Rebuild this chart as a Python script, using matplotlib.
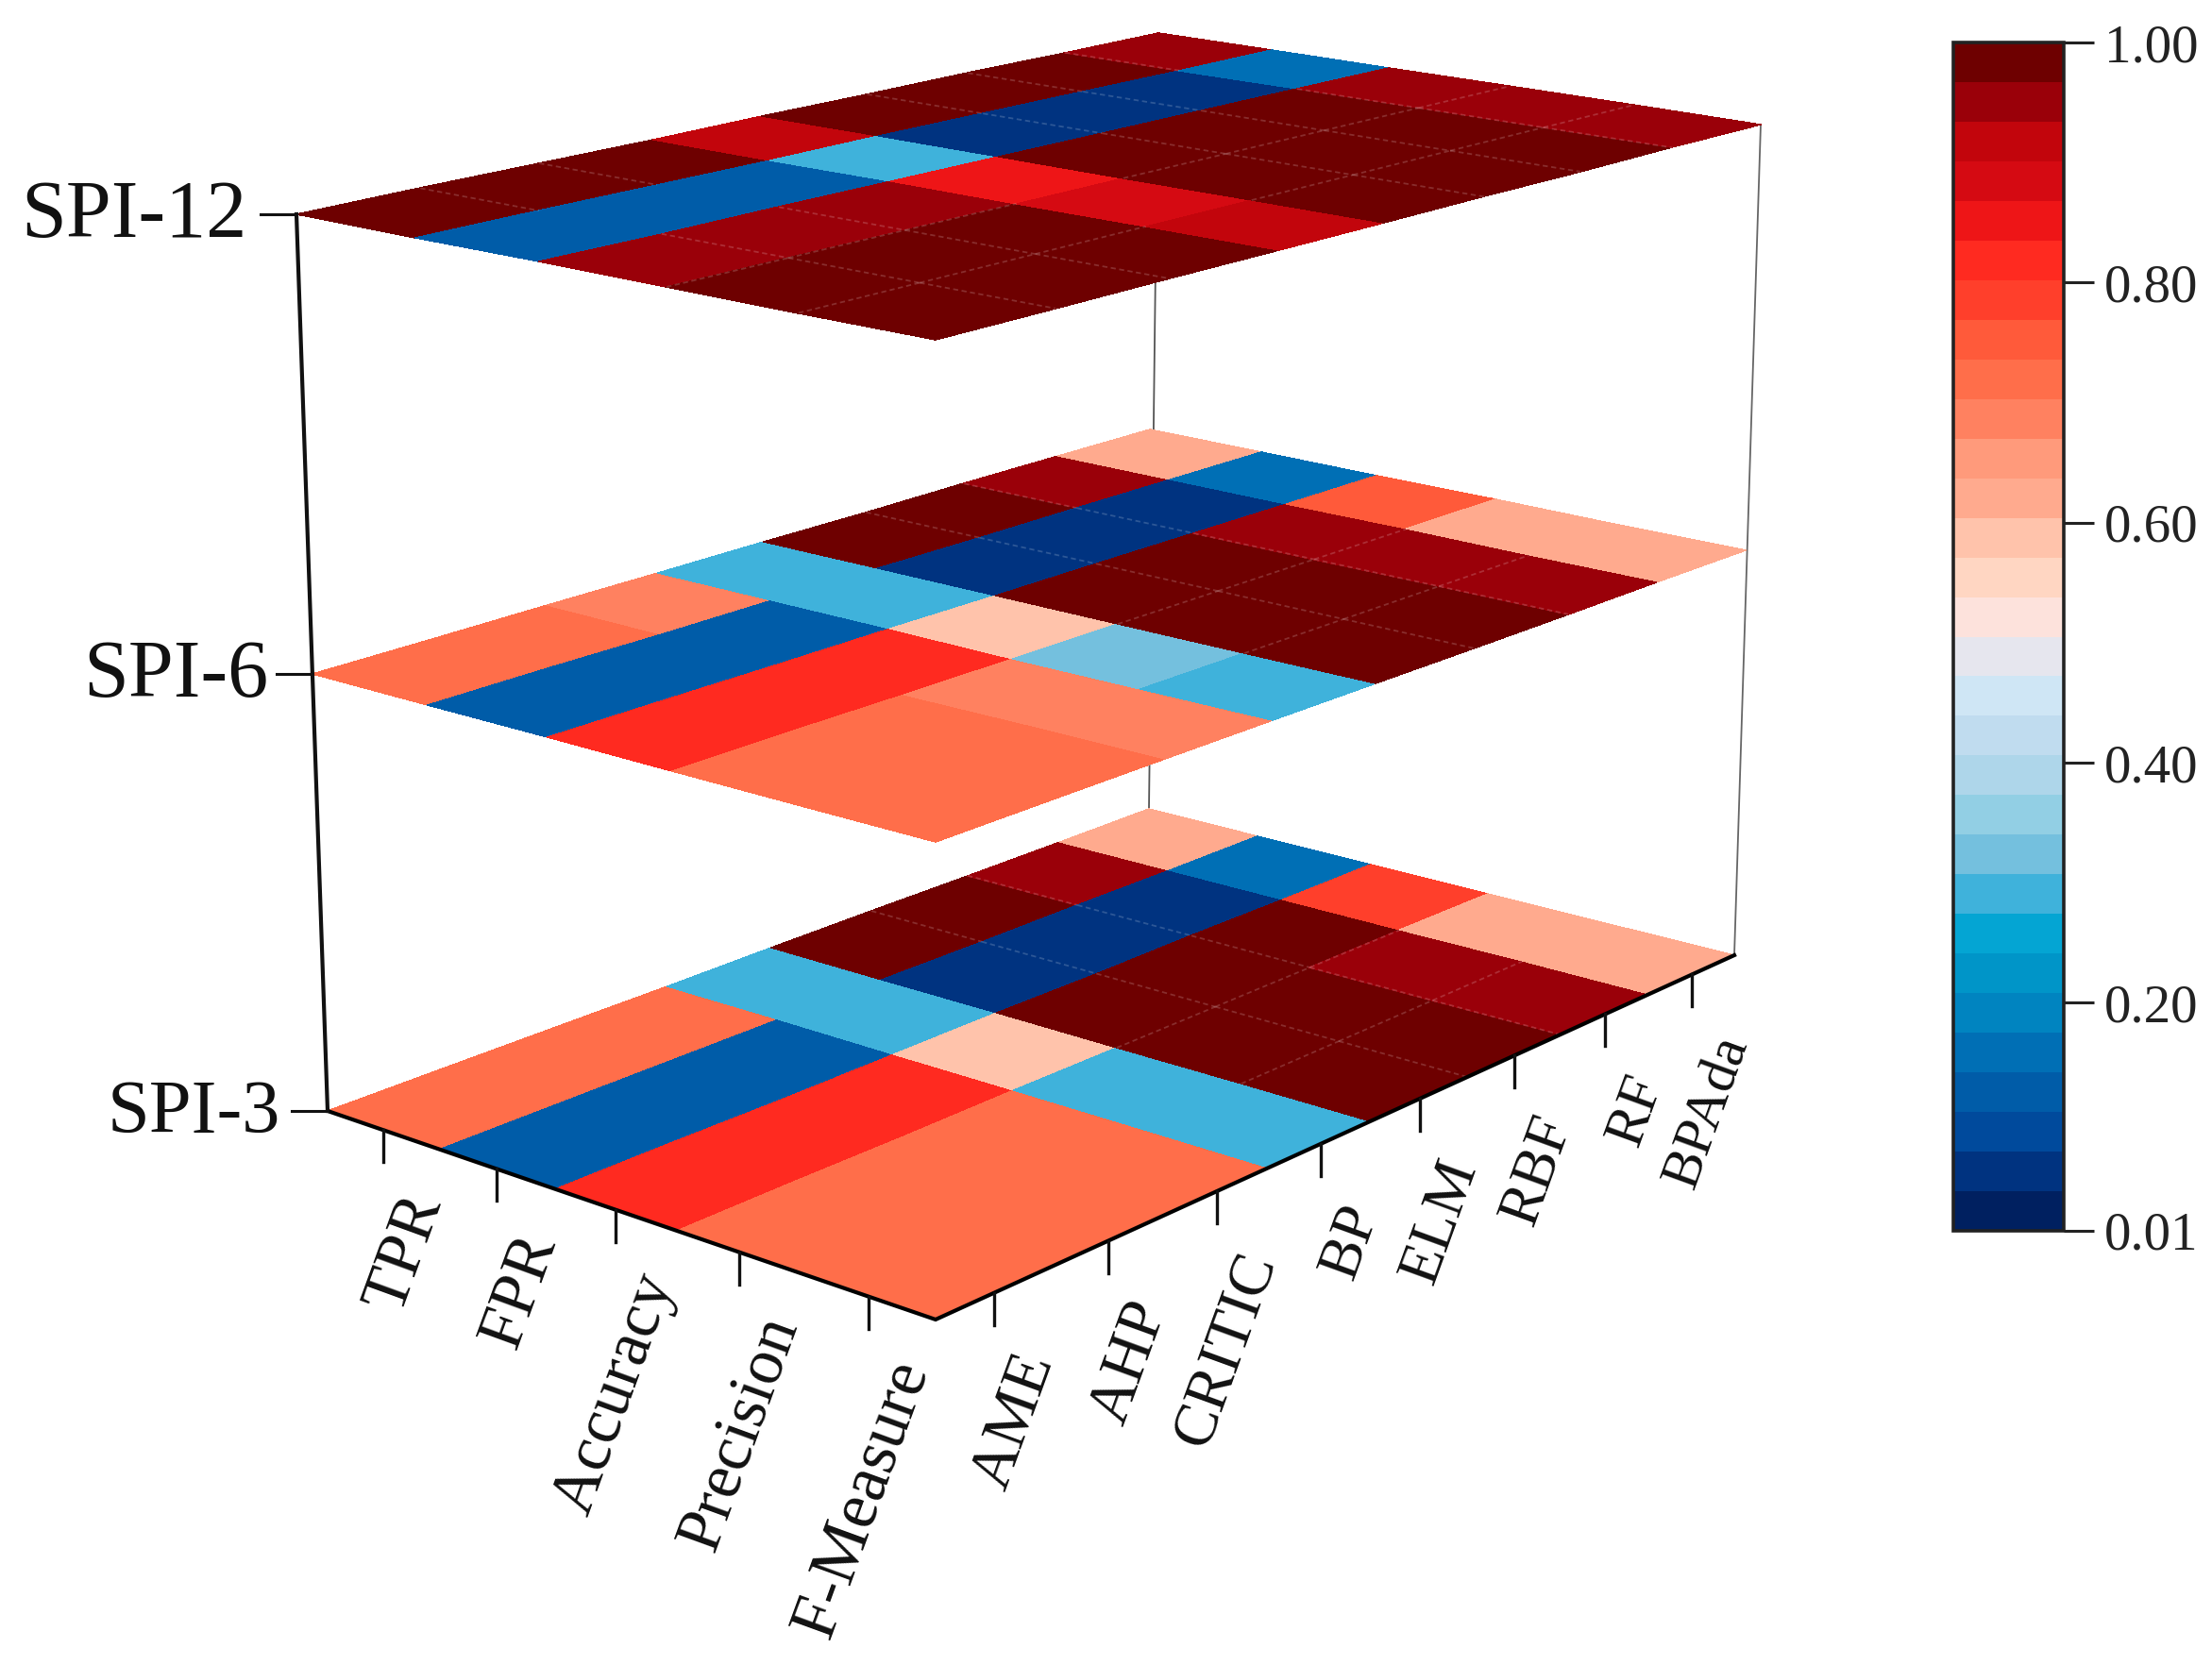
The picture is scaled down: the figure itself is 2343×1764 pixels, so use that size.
import numpy as np
import matplotlib
matplotlib.use("Agg")
import matplotlib.pyplot as plt
from matplotlib.colors import ListedColormap, BoundaryNorm

plt.rcParams['font.family'] = ['Liberation Serif', 'DejaVu Serif']

# data
metrics = ['TPR', 'FPR', 'Accuracy', 'Precision', 'F-Measure']
models = ['AME', 'AHP', 'CRITIC', 'BP', 'ELM', 'RBF', 'RF', 'BPAda']
levels = ['SPI-3', 'SPI-6', 'SPI-12']

spi3 = [[0.72, 0.72, 0.72, 0.29, 0.99, 0.99, 0.95, 0.62],
        [0.13, 0.13, 0.13, 0.29, 0.06, 0.06, 0.06, 0.16],
        [0.82, 0.82, 0.82, 0.59, 0.99, 0.99, 0.99, 0.78],
        [0.72, 0.72, 0.72, 0.29, 0.99, 0.99, 0.95, 0.62],
        [0.72, 0.72, 0.72, 0.29, 0.99, 0.99, 0.95, 0.62]]
spi6 = [[0.72, 0.72, 0.69, 0.29, 0.99, 0.99, 0.95, 0.62],
        [0.13, 0.13, 0.13, 0.29, 0.06, 0.06, 0.06, 0.16],
        [0.82, 0.82, 0.82, 0.59, 0.99, 0.99, 0.95, 0.75],
        [0.72, 0.72, 0.69, 0.32, 0.99, 0.99, 0.95, 0.62],
        [0.72, 0.72, 0.69, 0.29, 0.99, 0.99, 0.95, 0.62]]
spi12 = [[0.99, 0.99, 0.99, 0.92, 0.99, 0.99, 0.99, 0.95],
         [0.13, 0.13, 0.13, 0.29, 0.06, 0.06, 0.06, 0.16],
         [0.95, 0.95, 0.95, 0.86, 0.99, 0.99, 0.99, 0.95],
         [0.99, 0.99, 0.99, 0.89, 0.99, 0.99, 0.99, 0.95],
         [0.99, 0.99, 0.99, 0.92, 0.99, 0.99, 0.99, 0.95]]

band_colors = ['#002060', '#003380', '#004a9c', '#005ca8', '#006fb5', '#0084c0',
               '#0095c8', '#04a5d3', '#3fb2db', '#74c0de', '#92cfe4', '#aed6ea',
               '#c0dcef', '#cfe6f5', '#e6e6ee', '#fde2dc', '#ffd6c2', '#ffc3ab',
               '#ffaa8e', '#ff9a7b', '#ff8160', '#ff6e4a', '#ff5a3a', '#ff3f2b',
               '#ff2a20', '#ee1517', '#d50a12', '#c2050c', '#9a0009', '#6e0000']
cbar_ticks = [0.01, 0.20, 0.40, 0.60, 0.80, 1.00]

W, H = 2343, 1764

# sheet corners in pixels: left, back, right, front
corners = {'SPI-3': [(347, 1177), (1217, 857), (1837, 1012), (991, 1398)],
           'SPI-6': [(331, 714), (1218, 455), (1849, 583), (991, 892)],
           'SPI-12': [(314, 227), (1227, 35), (1865, 132), (991, 360)]}
label_size = {'SPI-3': 58, 'SPI-6': 62, 'SPI-12': 62}
label_gap = {'SPI-3': 50, 'SPI-6': 47, 'SPI-12': 52}
metric_size = [50, 50, 50, 50, 51]
model_size = [48, 48, 47, 46, 46, 45, 44, 43]


def homography(pts):
    # maps (col, row) on the 8x5 grid onto the sheet in picture
    src = [(0, 0), (8, 0), (8, 5), (0, 5)]
    A, b = [], []
    for (u, v), (x, y) in zip(src, pts):
        A.append([u, v, 1, 0, 0, 0, -u * x, -v * x])
        A.append([0, 0, 0, u, v, 1, -u * y, -v * y])
        b += [x, y]
    h = np.linalg.solve(np.array(A, float), np.array(b, float))
    return np.append(h, 1).reshape(3, 3)


def project(m, u, v):
    u, v = np.asarray(u, float), np.asarray(v, float)
    d = m[2, 0] * u + m[2, 1] * v + m[2, 2]
    return (m[0, 0] * u + m[0, 1] * v + m[0, 2]) / d, (m[1, 0] * u + m[1, 1] * v + m[1, 2]) / d


fig = plt.figure(figsize=(W / 100, H / 100), dpi=100)
ax = fig.add_axes([0, 0, 1, 1])
ax.set_xlim(0, W)
ax.set_ylim(H, 0)
ax.axis('off')

bounds = np.linspace(0.01, 1.0, len(band_colors) + 1)
cmap = ListedColormap(band_colors)
norm = BoundaryNorm(bounds, cmap.N)

# box lines behind the sheets
c3, c12 = corners['SPI-3'], corners['SPI-12']
ax.plot([c12[1][0], c3[1][0]], [c12[1][1], c3[1][1]], color='#555555', lw=1.3, zorder=1)
ax.plot([c12[2][0], c3[2][0]], [c12[2][1], c3[2][1]], color='#666666', lw=1.3, zorder=1)
ax.plot([c12[0][0], c3[0][0]], [c12[0][1], c3[0][1]], color='#111111', lw=3, zorder=5)

for name, vals in zip(levels, [spi3, spi6, spi12]):
    vals = np.array(vals)
    m = homography(corners[name])
    uu, vv = np.meshgrid(np.arange(9), np.arange(6))
    X, Y = project(m, uu, vv)
    ax.pcolormesh(X, Y, vals, cmap=cmap, norm=norm, shading='flat', zorder=2,
                  edgecolors='face', linewidth=0.3)

    # faint seams between the very dark / very blue cells
    for r in range(5):
        for k in range(8):
            if k < 7 and abs(vals[r, k] - vals[r, k + 1]) < 0.06 and (vals[r, k] > 0.93 or vals[r, k] < 0.1):
                x, y = project(m, [k + 1, k + 1], [r, r + 1])
                ax.plot(x, y, color='white', alpha=0.18, lw=1.3, ls=(0, (3, 2)), zorder=3)
            if r < 4 and abs(vals[r, k] - vals[r + 1, k]) < 0.06 and (vals[r, k] > 0.93 or vals[r, k] < 0.1):
                x, y = project(m, [k, k + 1], [r + 1, r + 1])
                ax.plot(x, y, color='white', alpha=0.18, lw=1.3, ls=(0, (3, 2)), zorder=3)

    # level tick and label
    lx, ly = corners[name][0]
    ax.plot([lx - 38, lx], [ly, ly], color='#111111', lw=2.2, zorder=5)
    ax.text(lx - label_gap[name], ly + 3, name, ha='right', va='center',
            fontsize=label_size[name], color='#111111')

# floor edges, ticks and tick labels
m3 = homography(corners['SPI-3'])
ex, ey = project(m3, [0, 0, 8], [0, 5, 5])
ax.plot(ex, ey, color='black', lw=3, zorder=4, solid_joinstyle='miter')

tick_len = 34
for i, lab in enumerate(metrics):
    x, y = project(m3, 0, i + 0.5)
    ax.plot([x, x], [y, y + tick_len], color='#111111', lw=2.4, zorder=4)
    ax.text(x + 46, y + tick_len + 36, lab, rotation=70, rotation_mode='anchor',
            ha='right', va='center', fontsize=metric_size[i], color='#111111')
for i, lab in enumerate(models):
    x, y = project(m3, i + 0.5, 5)
    ax.plot([x, x], [y, y + tick_len], color='#111111', lw=2.4, zorder=4)
    ax.text(x + 46, y + tick_len + 33, lab, rotation=70, rotation_mode='anchor',
            ha='right', va='center', fontsize=model_size[i], color='#111111')

# colour bar
cax = fig.add_axes([2069 / W, 1 - 1304 / H, (2186 - 2069) / W, (1304 - 45) / H])
sm = plt.cm.ScalarMappable(norm=norm, cmap=cmap)
cb = fig.colorbar(sm, cax=cax, spacing='proportional', ticks=cbar_ticks, drawedges=False)
cb.ax.set_yticklabels(['%.2f' % t for t in cbar_ticks])
cb.ax.tick_params(length=23, width=2.2, color='#222222', labelsize=41, pad=8, labelcolor='#222222')
cb.ax.minorticks_off()
cb.outline.set_linewidth(2.6)
cb.outline.set_edgecolor('#222222')

fig.savefig('out.png', dpi=100)
